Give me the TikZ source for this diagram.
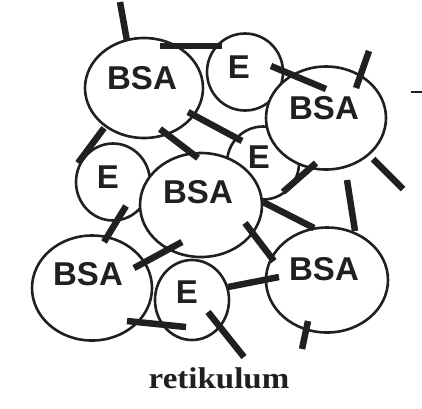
\documentclass[tikz,border=0pt]{standalone}
\usepackage{fontspec}
\setmainfont{Liberation Serif}
\newfontfamily\lblfont{Liberation Sans}
\usetikzlibrary{shapes.geometric}
\definecolor{ink}{HTML}{202020}
\begin{document}
\begin{tikzpicture}[x=1pt,y=-1pt,
  cell/.style={ellipse,draw=ink,line width=2.6pt,fill=white,inner sep=0pt},
  lbl/.style={inner sep=0pt,text=ink,font=\lblfont\bfseries\fontsize{33}{33}\selectfont},
  bar/.style={line width=6.5pt,draw=ink,line cap=butt},
  thin/.style={line width=1.6pt,draw=ink}]
\useasboundingbox[fill=white] (0,0) rectangle (422,408);
% E cells (behind)
\node[cell,minimum width=76pt,minimum height=77pt] (e1) at (245,72) {};
\node[cell,minimum width=72pt,minimum height=73pt] (e2) at (263,163) {};
\node[cell,minimum width=74pt,minimum height=77pt] (e3) at (113,182) {};
\node[cell,minimum width=74pt,minimum height=80pt] (e4) at (192,300) {};
% BSA cells
\node[cell,minimum width=118pt,minimum height=100pt] (b1) at (144,88) {};
\node[cell,minimum width=120pt,minimum height=103pt] (b2) at (326,118) {};
\node[cell,minimum width=122pt,minimum height=104pt] (bc) at (201,205) {};
\node[cell,minimum width=120pt,minimum height=105pt] (b3) at (92,288) {};
\node[cell,minimum width=122pt,minimum height=105pt] (b4) at (327,280) {};
% labels
\node[lbl] (b1t) at (142,78) {BSA};
\node[lbl] (e1t) at (239,67) {E};
\node[lbl] (b2t) at (324,108) {BSA};
\node[lbl] (e2t) at (259,157) {E};
\node[lbl] (e3t) at (108,177) {E};
\node[lbl] (bct) at (198,192) {BSA};
\node[lbl] (b3t) at (88,274) {BSA};
\node[lbl] (e4t) at (187,292) {E};
\node[lbl] (b4t) at (324,269) {BSA};
% bar end points
\coordinate (p1a) at (120,2);   \coordinate (p1b) at (127,41);
\coordinate (p2a) at (160,46);  \coordinate (p2b) at (222,46);
\coordinate (p3a) at (271,66);  \coordinate (p3b) at (326,89);
\coordinate (p4a) at (369,51);  \coordinate (p4b) at (356,88);
\coordinate (p5a) at (411,92);  \coordinate (p5b) at (422,92);
\coordinate (p6a) at (373,159); \coordinate (p6b) at (403,189);
\coordinate (p7a) at (347,180); \coordinate (p7b) at (355,231);
\coordinate (p8a) at (316,163); \coordinate (p8b) at (283,192);
\coordinate (p9a) at (188,112); \coordinate (p9b) at (242,141);
\coordinate (p10a) at (160,129); \coordinate (p10b) at (198,158);
\coordinate (p11a) at (104,128); \coordinate (p11b) at (78,163);
\coordinate (p12a) at (126,206); \coordinate (p12b) at (104,242);
\coordinate (p13a) at (182,242); \coordinate (p13b) at (134,268);
\coordinate (p14a) at (127,321); \coordinate (p14b) at (186,327);
\coordinate (p15a) at (245,223); \coordinate (p15b) at (274,261);
\coordinate (p16a) at (263,202); \coordinate (p16b) at (314,228);
\coordinate (p17a) at (228,287); \coordinate (p17b) at (279,277);
\coordinate (p18a) at (208,312); \coordinate (p18b) at (244,357);
\coordinate (p19a) at (308,321); \coordinate (p19b) at (302,349);
% bars
\foreach \i in {1,2,3,4,6,7,8,9,10,11,12,13,14,15,16,17,18,19}
  \draw[bar] (p\i a) -- (p\i b);
\draw[thin] (p5a) -- (p5b);
% caption
\node[anchor=base,inner sep=0pt,text=ink,xscale=1.1,font=\bfseries\fontsize{30}{30}\selectfont] (cap) at (219,388) {retikulum};
\end{tikzpicture}
\end{document}
